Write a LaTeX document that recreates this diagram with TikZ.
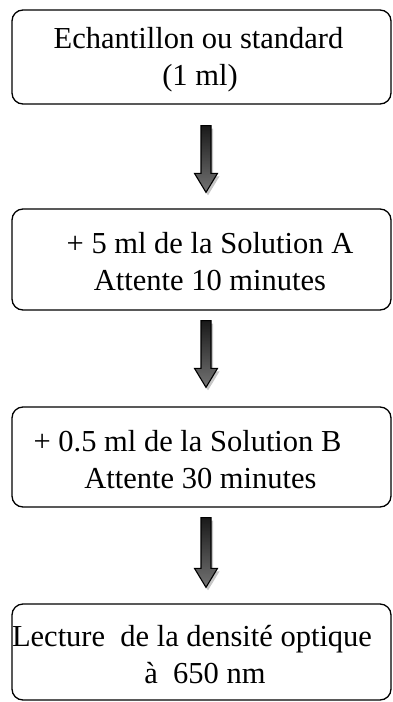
\documentclass[tikz,border=0pt]{standalone}
\usepackage{fontspec}
\setmainfont{Liberation Serif}
\usetikzlibrary{calc}

\tikzset{
  stepbox/.style={draw, line width=1.3pt, rounded corners=11pt, minimum width=379pt,
    align=center, inner sep=0pt, font=\fontsize{30.5}{37}\selectfont},
  arrowshadow/.style={fill=gray!45},
  arrowbody/.style={draw=black, line width=1.1pt, top color=black!90, bottom color=black!55},
}

% block arrow going down from #1 to its tip #2
\newcommand{\blockarrow}[2]{%
  \path[arrowshadow] let \p1=(#1), \p2=(#2) in
    (\x1-3pt,\y1-3pt) -- (\x1+7pt,\y1-3pt) -- (\x1+7pt,\y2+16pt) -- (\x1+13.5pt,\y2+16pt)
    -- (\x1+2pt,\y2-3pt) -- (\x1-9.5pt,\y2+16pt) -- (\x1-3pt,\y2+16pt) -- cycle;
  \path[arrowbody] let \p1=(#1), \p2=(#2) in
    (\x1-5pt,\y1) -- (\x1+5pt,\y1) -- (\x1+5pt,\y2+19pt) -- (\x1+11.5pt,\y2+19pt)
    -- (\x1,\y2) -- (\x1-11.5pt,\y2+19pt) -- (\x1-5pt,\y2+19pt) -- cycle;
}

\begin{document}
\begin{tikzpicture}[x=1pt, y=1pt]
  \useasboundingbox (0,0) rectangle (392,-702);

  % the four steps
  \node[stepbox, minimum height=94pt] (sample) at (201.5,-57)
    {\rule{0pt}{26pt}Echantillon ou standard\hspace*{6pt}\\(1 ml)\hspace*{3pt}};
  \node[stepbox, minimum height=101pt] (solA) at (201.5,-259.5)
    {\rule{0pt}{26pt}\hspace*{17pt}+ 5 ml de la Solution A\\\hspace*{17pt}Attente 10 minutes};
  \node[stepbox, minimum height=100pt] (solB) at (201.5,-457)
    {\rule{0pt}{26pt}+ 0.5 ml de la Solution B\hspace*{28pt}\\Attente 30 minutes\hspace*{2pt}};
  \node[stepbox, minimum height=96pt] (read) at (201.5,-652)
    {\rule{0pt}{26pt}Lecture\ \ de la densité optique\hspace*{19pt}\\\hspace*{7pt}à\ \ 650 nm};

  % arrows between steps
  \coordinate (a1) at ($(sample.south)+(4.5,-21)$);
  \coordinate (t1) at ($(solA.north)+(4.5,16)$);
  \coordinate (a2) at ($(solA.south)+(4.5,-10)$);
  \coordinate (t2) at ($(solB.north)+(4.5,19)$);
  \coordinate (a3) at ($(solB.south)+(4.5,-10)$);
  \coordinate (t3) at ($(read.north)+(4.5,16)$);
  \blockarrow{a1}{t1}
  \blockarrow{a2}{t2}
  \blockarrow{a3}{t3}
\end{tikzpicture}
\end{document}
